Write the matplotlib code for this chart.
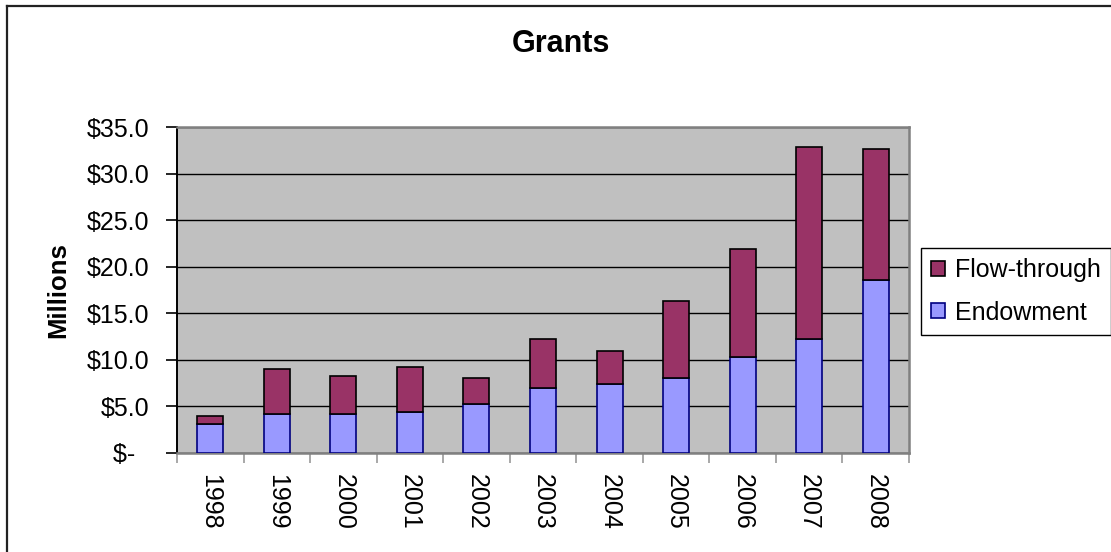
import numpy as np
import matplotlib
matplotlib.use("Agg")
import matplotlib.pyplot as plt
from matplotlib.lines import Line2D
from matplotlib.ticker import FuncFormatter

plt.rcParams['font.family'] = ['Liberation Sans', 'DejaVu Sans']

# grant totals per year, in millions
years = ['1998', '1999', '2000', '2001', '2002', '2003', '2004', '2005', '2006', '2007', '2008']
endowment = [3.1, 4.2, 4.2, 4.4, 5.3, 7.0, 7.4, 8.1, 10.3, 12.2, 18.6]
flow_through = [0.9, 4.8, 4.1, 4.8, 2.8, 5.2, 3.5, 8.2, 11.6, 20.6, 14.0]

fig = plt.figure(figsize=(11.11, 5.52), dpi=100)
W, H = 1111.0, 552.0

# outer chart border (only left and top edges are in frame)
fig.add_artist(Line2D([7 / W, 7 / W], [0, 1 - 5.5 / H], transform=fig.transFigure,
                      color='#222222', lw=1.6))
fig.add_artist(Line2D([7 / W, 1], [1 - 5.5 / H, 1 - 5.5 / H], transform=fig.transFigure,
                      color='#222222', lw=1.6))

ax = fig.add_axes([177 / W, 1 - 453 / H, (909 - 177) / W, (453 - 127) / H])
ax.set_facecolor('#C0C0C0')

x = np.arange(len(years))
w = 0.39
b_end = ax.bar(x, endowment, w, color='#9999FF', edgecolor='#000080', linewidth=1.2, zorder=3)
b_flow = ax.bar(x, flow_through, w, bottom=endowment, color='#993366', edgecolor='black',
                linewidth=1.2, zorder=3)

ax.set_xlim(-0.5, len(years) - 0.5)
ax.set_ylim(0, 35)
ax.set_yticks(np.arange(0, 36, 5))
ax.yaxis.set_major_formatter(FuncFormatter(lambda v, p: '$-  ' if v == 0 else '${:.1f}'.format(v)))
ax.grid(axis='y', color='black', linewidth=1.0, zorder=1)
ax.set_axisbelow(True)

ax.set_xticks(x)
ax.set_xticklabels(years, rotation=-90)
ax.set_xticks(np.arange(-0.5, len(years)), minor=True)
ax.tick_params(axis='x', which='major', length=0, pad=15, labelsize=18)
ax.tick_params(axis='x', which='minor', length=7, width=1.2, color='#999999')
ax.tick_params(axis='y', length=8, width=1.2, color='black', pad=12, labelsize=18)

ax.spines['left'].set_color('black')
ax.spines['left'].set_linewidth(1.4)
for s in ['top', 'right', 'bottom']:
    ax.spines[s].set_color('#808080')
    ax.spines[s].set_linewidth(1.8)

ax.set_ylabel('Millions', fontsize=18.5, fontweight='bold', labelpad=12)

fig.text(561 / W, 1 - 44 / H, 'Grants', fontsize=22, fontweight='bold', ha='center', va='center')

leg = fig.legend([b_flow, b_end], ['Flow-through', 'Endowment'], loc='upper left',
                 bbox_to_anchor=(921 / W, 1 - 248 / H), borderaxespad=0, fontsize=18,
                 frameon=True, fancybox=False, edgecolor='black', framealpha=1,
                 handlelength=0.55, handleheight=0.55, handletextpad=0.4,
                 borderpad=0.4, labelspacing=0.75)
leg.get_frame().set_linewidth(1.0)

fig.savefig('out.png', dpi=100)
